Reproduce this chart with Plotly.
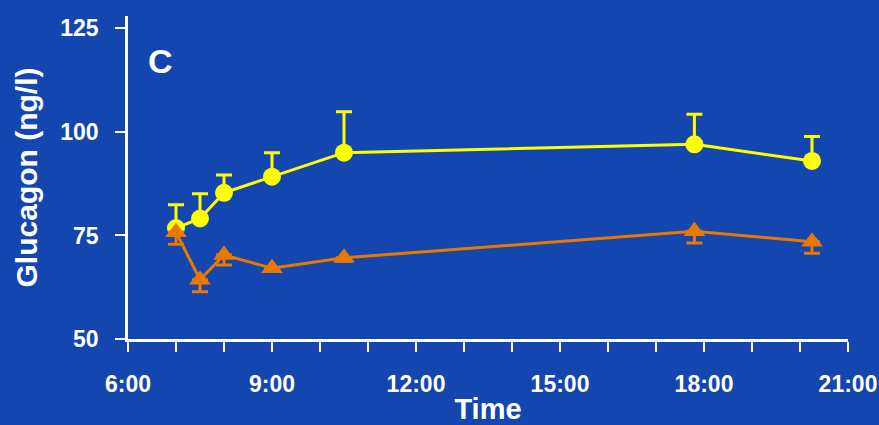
import plotly.graph_objects as go

# Data (time in decimal hours)
time_hours = [7.0, 7.5, 8.0, 9.0, 10.5, 17.8, 20.25]
series_a = [76.8, 79.1, 85.3, 89.2, 95.0, 97.0, 93.0]      # yellow circles
series_a_err = [5.6, 6.0, 4.3, 5.8, 9.9, 7.3, 5.9]          # upward SEM
series_b = [75.8, 64.3, 70.3, 67.1, 69.6, 76.0, 73.5]      # orange triangles
series_b_err = [2.9, 2.9, 2.4, 0.8, 0.8, 2.8, 2.8]          # downward SEM

tick_hours = list(range(6, 22))
tick_text = [f"{h}:00" if h % 3 == 0 else "" for h in tick_hours]
y_ticks = [50, 75, 100, 125]

BG = "rgb(20,70,175)"
YELLOW = "#ffff00"
ORANGE = "#e87800"
FONT = "Liberation Sans, Arial, sans-serif"

fig = go.Figure()
fig.add_trace(go.Scatter(
    x=time_hours, y=series_a, mode="lines+markers",
    line=dict(color=YELLOW, width=3),
    marker=dict(symbol="circle", size=18, color=YELLOW),
    error_y=dict(type="data", symmetric=False, array=series_a_err,
                 arrayminus=[0] * len(series_a_err),
                 color=YELLOW, thickness=3, width=8),
    showlegend=False,
))
fig.add_trace(go.Scatter(
    x=time_hours, y=series_b, mode="lines+markers",
    line=dict(color=ORANGE, width=3),
    marker=dict(symbol="triangle-up", size=19, color=ORANGE),
    error_y=dict(type="data", symmetric=False, array=[0] * len(series_b_err),
                 arrayminus=series_b_err,
                 color=ORANGE, thickness=3, width=8),
    showlegend=False,
))

fig.add_annotation(text="C", xref="paper", yref="paper", x=0.045, y=0.86,
                   xanchor="center", yanchor="middle", showarrow=False,
                   font=dict(family=FONT, size=34, color="white", weight="bold"))

fig.update_layout(
    width=879, height=425,
    margin=dict(l=128, r=31, t=16, b=86),
    paper_bgcolor=BG, plot_bgcolor=BG,
    font=dict(family=FONT, color="white", weight="bold"),
    xaxis=dict(
        range=[6, 21], tickmode="array", tickvals=tick_hours, ticktext=tick_text,
        showgrid=False, zeroline=False, showline=True, linecolor="white", linewidth=2.5,
        ticks="outside", ticklen=10, tickwidth=2, tickcolor="white",
        tickfont=dict(family=FONT, size=23, color="white", weight="bold"),
        ticklabelstandoff=13, automargin=False,
        title=dict(text="Time", font=dict(family=FONT, size=29, color="white", weight="bold"),
                   standoff=8),
    ),
    yaxis=dict(
        range=[50, 128], tickmode="array", tickvals=y_ticks,
        showgrid=False, zeroline=False, showline=True, linecolor="white", linewidth=2.5,
        ticks="outside", ticklen=10, tickwidth=2, tickcolor="white",
        tickfont=dict(family=FONT, size=23, color="white", weight="bold"),
        ticklabelstandoff=12, automargin=False,
        title=dict(text="Glucagon (ng/l)", font=dict(family=FONT, size=30, color="white", weight="bold"),
                   standoff=14),
    ),
)

fig.write_html("out.html")
